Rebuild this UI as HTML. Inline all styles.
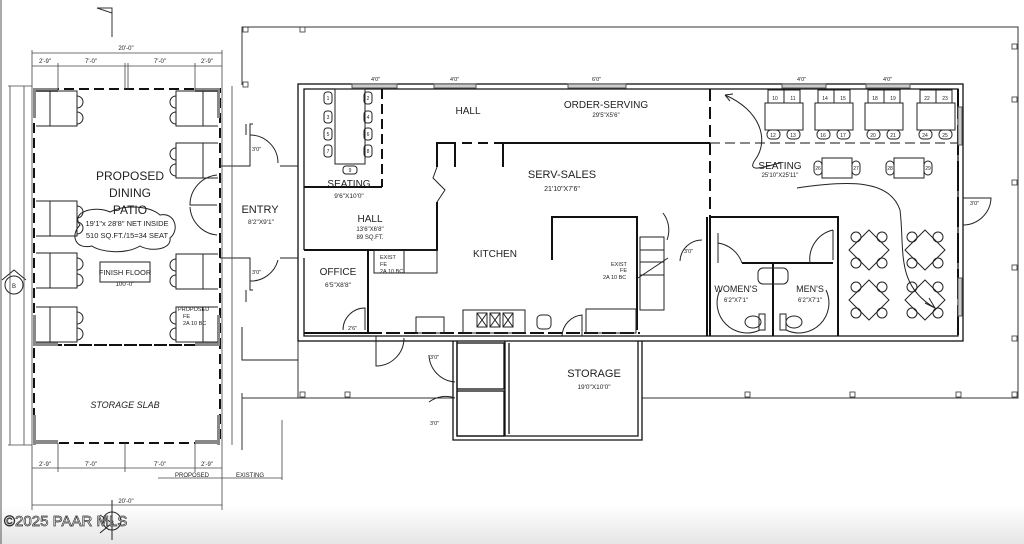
<!DOCTYPE html>
<html><head><meta charset="utf-8"><style>
html,body{margin:0;padding:0;background:#fff;}
svg{display:block;}
text{font-family:"Liberation Sans",sans-serif;fill:#222;}
</style></head><body>
<svg width="1024" height="544" viewBox="0 0 1024 544" xmlns="http://www.w3.org/2000/svg">
<defs>
<linearGradient id="g" x1="0" y1="0" x2="0" y2="1"><stop offset="0" stop-color="#fff"/><stop offset="1" stop-color="#e6e6e6"/></linearGradient>
</defs>
<rect width="1024" height="544" fill="#fff"/>
<rect x="0" y="505" width="1024" height="39" fill="url(#g)"/>
<line x1="1" y1="0" x2="1" y2="544" stroke="#555" stroke-width="1"/>
<g fill="none" stroke="#333" stroke-width="1">
<polyline points="242,85 242,27 1018,27 1018,398 642,398"/>
<line x1="242" y1="393" x2="242" y2="450"/>
<polyline points="242,398 298,398 298,340"/>
<line x1="298" y1="398" x2="453" y2="398"/>
<g stroke-width="0.8">
<rect x="243" y="27" width="5" height="5"/><rect x="300" y="27" width="5" height="5"/><rect x="1012" y="44" width="5" height="5"/><rect x="1012" y="97" width="5" height="5"/><rect x="1012" y="180" width="5" height="5"/><rect x="1012" y="265" width="5" height="5"/><rect x="1012" y="336" width="5" height="5"/><rect x="1012" y="392" width="5" height="5"/><rect x="745" y="392" width="5" height="5"/><rect x="850" y="392" width="5" height="5"/><rect x="956" y="392" width="5" height="5"/><rect x="243" y="82" width="5" height="5"/><rect x="300" y="392" width="5" height="5"/><rect x="345" y="392" width="5" height="5"/>
</g>
<polyline points="112,37 112,8 97,8 112,13"/>
</g>

<g fill="none" stroke="#111" stroke-width="1.3">
<rect x="298" y="84" width="665" height="257"/>
<polyline points="304,250 304,89 958,89 958,336 304,336 304,258"/>
<polyline points="453,341 453,440 642,440 642,341"/>
<polyline points="457,341 457,436 638,436 638,341"/>
<line x1="505" y1="341" x2="505" y2="436"/>
<line x1="509" y1="343" x2="509" y2="434"/>
<rect x="457" y="343" width="47" height="46"/>
<rect x="457" y="391" width="47" height="45"/>
</g>
<g fill="none" stroke="#111" stroke-width="2">
<line x1="382" y1="89" x2="382" y2="187" stroke-dasharray="10,5"/>
<line x1="304" y1="187" x2="382" y2="187"/>
<polyline points="304,250 437,250 437,202"/>
<polyline points="437,167 437,143 455,143 455,167"/>
<line x1="462" y1="143" x2="503" y2="143" stroke-dasharray="10,6"/>
<polyline points="503,167 503,143 710,143"/>
<line x1="710" y1="143" x2="958" y2="143" stroke-dasharray="10,5" stroke-width="1"/>
<line x1="710" y1="89" x2="710" y2="217" stroke-dasharray="12,6"/>
<polyline points="552,260 552,217 637,217 637,330"/>
<polyline points="368,250 368,333"/>
<polyline points="304,333 368,333"/>
<line x1="368" y1="333" x2="640" y2="333" stroke-dasharray="14,4"/>
<polyline points="710,217 838,217 838,336"/>
<line x1="710" y1="217" x2="710" y2="336"/>
<line x1="707" y1="217" x2="707" y2="336"/>
<line x1="742" y1="263" x2="833" y2="263"/>
<line x1="773" y1="263" x2="773" y2="336"/>
<line x1="958" y1="89" x2="958" y2="336" stroke-dasharray="30,6"/>
</g>
<g fill="none" stroke="#222" stroke-width="1">
<rect x="640" y="237" width="24" height="73"/>
<line x1="640" y1="250" x2="664" y2="250"/><line x1="640" y1="262" x2="664" y2="262"/><line x1="640" y1="275" x2="664" y2="275"/>
<line x1="638" y1="278" x2="668" y2="258"/>
<path d="M663,213 A28,28 0 0 1 667,240"/>
<rect x="416" y="317" width="28" height="16"/>
<rect x="463" y="310" width="62" height="23"/>
<rect x="477" y="313" width="10" height="14"/><rect x="490" y="313" width="10" height="14"/><rect x="503" y="313" width="10" height="14"/>
<path d="M477,313 L487,327 M487,313 L477,327 M490,313 L500,327 M500,313 L490,327 M503,313 L513,327 M513,313 L503,327"/>
<rect x="537" y="315" width="14" height="14" rx="4"/>
<rect x="586" y="309" width="50" height="24"/>
<rect x="374" y="250" width="63" height="23"/>
<line x1="404" y1="250" x2="404" y2="273"/>
<path d="M343,330 A22,22 0 0 1 365,308 L365,330"/>
<path d="M376,336 L376,366 A28,28 0 0 0 404,338"/>
<path d="M429,355 A28,28 0 0 0 455,382"/>
<path d="M429,402 A28,28 0 0 1 455,398"/>
<path d="M562,336 A22,22 0 0 1 582,315 L582,336"/>
<path d="M437,202 L445,190 L433,178 L437,167"/>
<path d="M680,261 A22,22 0 0 1 702,240"/>
<path d="M718,243 A30,30 0 0 1 742,263 M718,233 L718,263"/>
<path d="M833,230 A30,30 0 0 0 810,263 M833,230 L833,260"/>
<path d="M963,198 L991,198 A28,28 0 0 1 963,225"/>
<rect x="758" y="268" width="30" height="16" rx="5"/>
<path d="M720,290 A30,30 0 0 0 760,330 M826,290 A30,30 0 0 1 786,330"/>
<ellipse cx="753" cy="322" rx="8" ry="6"/><rect x="759" y="314" width="6" height="16"/>
<ellipse cx="794" cy="322" rx="8" ry="6"/><rect x="780" y="314" width="6" height="16"/>
<g stroke="#555"><rect x="352" y="84" width="45" height="4" fill="#ccc"/><rect x="434" y="84" width="42" height="4" fill="#ccc"/><rect x="568" y="84" width="58" height="4" fill="#ccc"/><rect x="782" y="84" width="44" height="4" fill="#ccc"/><rect x="866" y="84" width="44" height="4" fill="#ccc"/><rect x="958" y="107" width="4" height="38" fill="#ccc"/><rect x="958" y="278" width="4" height="38" fill="#ccc"/></g>
</g>

<g fill="none" stroke="#222" stroke-width="1">
<rect x="335" y="89" width="30" height="75"/>
<rect x="324" y="92" width="8" height="12" rx="3"/><rect x="324" y="111" width="8" height="12" rx="3"/><rect x="324" y="128" width="8" height="12" rx="3"/><rect x="324" y="145" width="8" height="12" rx="3"/>
<rect x="364" y="92" width="8" height="12" rx="3"/><rect x="364" y="111" width="8" height="12" rx="3"/><rect x="364" y="128" width="8" height="12" rx="3"/><rect x="364" y="145" width="8" height="12" rx="3"/>
<rect x="343" y="166" width="14" height="8" rx="3"/>
</g>
<g fill="none" stroke="#222" stroke-width="1">
<g id="t1"><rect x="765" y="103" width="38" height="27"/><rect x="768" y="90" width="32" height="13"/><line x1="784" y1="90" x2="784" y2="103"/><rect x="767" y="130" width="13" height="9" rx="4"/><rect x="787" y="130" width="13" height="9" rx="4"/></g>
<use href="#t1" x="50"/><use href="#t1" x="100"/><use href="#t1" x="152"/>
<rect x="822" y="158" width="30" height="20"/><rect x="814" y="161" width="8" height="14" rx="4"/><rect x="852" y="161" width="8" height="14" rx="4"/>
<rect x="894" y="158" width="30" height="20"/><rect x="886" y="161" width="8" height="14" rx="4"/><rect x="924" y="161" width="8" height="14" rx="4"/>
<g id="d1"><polygon points="869,230 889,250 869,270 849,250"/><circle cx="856" cy="237" r="5"/><circle cx="882" cy="237" r="5"/><circle cx="856" cy="263" r="5"/><circle cx="882" cy="263" r="5"/></g>
<use href="#d1" x="56"/><use href="#d1" y="50"/><use href="#d1" x="56" y="50"/>
<path d="M725,95 C760,110 770,140 755,160 C745,175 770,165 780,163"/>
<path d="M797,188 C850,180 890,180 900,210 C905,250 895,285 935,308"/>
<path d="M925,303 L935,308 L929,298 M725,95 L733,94 M725,95 L730,101"/>
</g>

<g fill="none" stroke="#111" stroke-width="2">
<rect x="34" y="89" width="186" height="256" stroke-dasharray="10,5"/>
<rect x="34" y="345" width="186" height="98" stroke-dasharray="10,5"/>
</g>
<g fill="#888"><rect x="33" y="88" width="25" height="4"/><rect x="195" y="88" width="25" height="4"/><rect x="33" y="342" width="25" height="4"/><rect x="195" y="342" width="25" height="4"/><rect x="33" y="440" width="25" height="4"/><rect x="195" y="440" width="25" height="4"/><rect x="33" y="88" width="3" height="30"/><rect x="217" y="88" width="3" height="30"/><rect x="33" y="315" width="3" height="30"/><rect x="217" y="315" width="3" height="30"/><rect x="33" y="415" width="3" height="30"/><rect x="217" y="415" width="3" height="30"/></g>
<g fill="none" stroke="#222" stroke-width="1">
<g id="p1"><rect x="50" y="91" width="27" height="35"/><line x1="36" y1="91" x2="50" y2="91"/><line x1="36" y1="126" x2="50" y2="126"/><path d="M77,96 a6,6 0 0 1 0,12 M77,112 a6,6 0 0 1 0,12"/></g>
<use href="#p1" y="110"/><use href="#p1" y="162"/><use href="#p1" y="216"/>
<g id="p2"><rect x="176" y="91" width="27" height="35"/><line x1="203" y1="91" x2="218" y2="91"/><line x1="203" y1="126" x2="218" y2="126"/><path d="M176,96 a6,6 0 0 0 0,12 M176,112 a6,6 0 0 0 0,12"/></g>
<use href="#p2" y="52"/><use href="#p2" y="163"/><use href="#p2" y="216"/>
<path d="M80,225 C70,212 95,205 110,212 C125,204 150,206 160,215 C175,212 180,230 170,238 C172,250 150,252 140,246 C125,255 100,252 92,246 C75,250 70,235 80,225Z"/>
<rect x="100" y="262" width="50" height="20"/>
<polyline points="220,166 250,166 250,124 253,124"/>
<polyline points="280,166 298,166"/>
<path d="M250,135 A28,28 0 0 1 278,163"/>
<polyline points="220,258 250,258 250,290 253,290"/>
<line x1="280" y1="258" x2="298" y2="258"/>
<path d="M250,281 A28,28 0 0 0 278,260"/>
<path d="M217,175 A30,30 0 0 0 190,205 L217,205"/>
<path d="M217,235 A30,30 0 0 1 190,207"/>
<line x1="246" y1="124" x2="246" y2="135"/>
<line x1="246" y1="290" x2="246" y2="302"/>
<polyline points="242,327 242,360 298,360"/>
<path d="M2,280 L14,270 L26,280"/><circle cx="14" cy="285" r="9"/>
<path d="M100,515 L112,523 L100,533 M112,500 L112,540"/><circle cx="112" cy="521" r="9"/>
</g>
<g fill="none" stroke="#444" stroke-width="0.8">
<line x1="32" y1="53" x2="222" y2="53"/>
<line x1="32" y1="66" x2="222" y2="66"/>
<line x1="32" y1="468" x2="222" y2="468"/>
<line x1="32" y1="505" x2="222" y2="505"/>
<line x1="32" y1="50" x2="32" y2="510"/><line x1="222" y1="50" x2="222" y2="510"/>
<line x1="58" y1="63" x2="58" y2="90"/><line x1="125" y1="63" x2="125" y2="90"/><line x1="128" y1="63" x2="128" y2="90"/><line x1="195" y1="63" x2="195" y2="90"/>
<line x1="58" y1="443" x2="58" y2="472"/><line x1="125" y1="443" x2="125" y2="472"/><line x1="195" y1="443" x2="195" y2="472"/>
<line x1="10" y1="86" x2="10" y2="445"/><line x1="24" y1="86" x2="24" y2="445"/>
<line x1="232" y1="86" x2="232" y2="445"/>
<line x1="8" y1="86" x2="32" y2="86"/><line x1="8" y1="445" x2="32" y2="445"/>
<line x1="158" y1="478" x2="282" y2="478"/><line x1="282" y1="420" x2="282" y2="480"/>
</g>
<g font-size="11" text-anchor="middle">
<text x="130" y="180" font-size="12">PROPOSED</text>
<text x="130" y="197" font-size="12">DINING</text>
<text x="130" y="214" font-size="12">PATIO</text>
<text x="127" y="226" font-size="7.5">19'1"x 28'8" NET INSIDE</text>
<text x="127" y="238" font-size="7.5">510 SQ.FT./15=34 SEAT</text>
<text x="125" y="275" font-size="7.5">FINISH FLOOR</text>
<text x="125" y="286" font-size="6">100'-0"</text>
<text x="125" y="408" font-size="9" font-style="italic">STORAGE SLAB</text>
<text x="260" y="213" font-size="11">ENTRY</text>
<text x="261" y="224" font-size="6.5">8'2"X9'1"</text>
<text x="349" y="187" font-size="10">SEATING</text>
<text x="349" y="198" font-size="6.5">9'6"X10'0"</text>
<text x="370" y="222" font-size="10">HALL</text>
<text x="370" y="231" font-size="6">13'6"X6'8"</text>
<text x="370" y="239" font-size="6">89 SQ.FT.</text>
<text x="338" y="275" font-size="10">OFFICE</text>
<text x="338" y="287" font-size="6.5">6'5"X8'8"</text>
<text x="468" y="114" font-size="10">HALL</text>
<text x="606" y="108" font-size="10">ORDER-SERVING</text>
<text x="606" y="117" font-size="6">29'5"X5'6"</text>
<text x="562" y="178" font-size="11">SERV-SALES</text>
<text x="562" y="191" font-size="7">21'10"X7'6"</text>
<text x="495" y="257" font-size="10">KITCHEN</text>
<text x="594" y="377" font-size="11">STORAGE</text>
<text x="594" y="389" font-size="6.5">19'0"X10'0"</text>
<text x="780" y="169" font-size="10">SEATING</text>
<text x="780" y="177" font-size="6">25'10"X25'11"</text>
<text x="736" y="292" font-size="9">WOMEN'S</text>
<text x="736" y="302" font-size="6">6'2"X7'1"</text>
<text x="810" y="292" font-size="9">MEN'S</text>
<text x="810" y="302" font-size="6">6'2"X7'1"</text>
<text x="250" y="477" font-size="6">EXISTING</text>
<text x="192" y="477" font-size="6">PROPOSED</text>
<text x="126" y="50" font-size="6">20'-0"</text>
<text x="126" y="503" font-size="6">20'-0"</text>
<text x="45" y="63" font-size="6">2'-9"</text><text x="91" y="63" font-size="6">7'-0"</text><text x="160" y="63" font-size="6">7'-0"</text><text x="207" y="63" font-size="6">2'-9"</text>
<text x="45" y="466" font-size="6">2'-9"</text><text x="91" y="466" font-size="6">7'-0"</text><text x="160" y="466" font-size="6">7'-0"</text><text x="207" y="466" font-size="6">2'-9"</text>
<text x="14" y="288" font-size="6">B</text>
<text x="112" y="525" font-size="6">B</text>
</g>
<g font-size="5.5">
<text x="380" y="259">EXIST</text><text x="380" y="266">FE</text><text x="380" y="273">2A 10 BC</text>
<text x="611" y="266">EXIST</text><text x="620" y="272">FE</text><text x="603" y="279">2A 10 BC</text>
<text x="178" y="311">PROPOSED</text><text x="183" y="318">FE</text><text x="183" y="325">2A 10 BC</text>
<text x="371" y="81">4'0"</text><text x="450" y="81">4'0"</text><text x="592" y="81">6'0"</text><text x="797" y="81">4'0"</text><text x="883" y="81">4'0"</text>
<text x="970" y="205">3'0"</text><text x="252" y="151">3'0"</text><text x="252" y="274">3'0"</text><text x="430" y="359">3'0"</text><text x="430" y="425">3'0"</text><text x="348" y="330">2'6"</text><text x="684" y="253">3'0"</text>
</g>
<g font-size="5" text-anchor="middle">
<text x="775" y="100">10</text><text x="793" y="100">11</text><text x="825" y="100">14</text><text x="843" y="100">15</text><text x="875" y="100">18</text><text x="893" y="100">19</text><text x="927" y="100">22</text><text x="945" y="100">23</text>
<text x="773" y="137">12</text><text x="793" y="137">13</text><text x="823" y="137">16</text><text x="843" y="137">17</text><text x="873" y="137">20</text><text x="893" y="137">21</text><text x="925" y="137">24</text><text x="945" y="137">25</text>
<text x="818" y="170">26</text><text x="856" y="170">27</text><text x="890" y="170">28</text><text x="928" y="170">29</text>
<text x="328" y="100">1</text><text x="368" y="100">2</text><text x="328" y="119">3</text><text x="368" y="119">4</text><text x="328" y="136">5</text><text x="368" y="136">6</text><text x="328" y="153">7</text><text x="368" y="153">8</text><text x="350" y="172">9</text>
</g>
<text x="4" y="526" font-size="15" fill="#fff" stroke="#333" stroke-width="0.7" style="fill:#fff">©2025 PAAR MLS</text>
</svg>
</body></html>
